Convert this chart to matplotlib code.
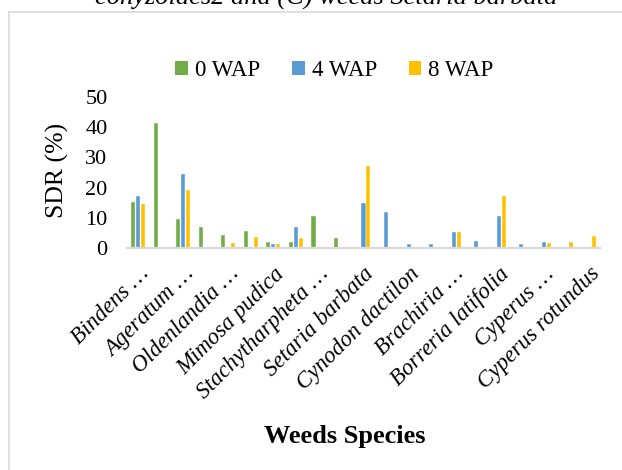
import matplotlib
matplotlib.use("Agg")
import matplotlib.pyplot as plt
import numpy as np
from matplotlib.patches import Patch
from matplotlib.lines import Line2D

# ---- data ----
tick_labels = ["Bindens \u2026", "", "Ageratum \u2026", "", "Oldenlandia \u2026", "",
               "Mimosa pudica", "", "Stachytharpheta \u2026", "", "Setaria barbata", "",
               "Cynodon dactilon", "", "Brachiria \u2026", "", "Borreria latifolia", "",
               "Cyperus \u2026", "", "Cyperus rotundus"]
series_names = ["0 WAP", "4 WAP", "8 WAP"]
wap0 = [15.1, 41.4, 9.5, 7.0, 4.2, 5.6, 2.1, 2.1, 10.5, 3.2, 0, 0, 0, 0, 0, 0, 0, 0, 0, 0, 0]
wap4 = [17.3, 0, 24.6, 0, 0, 0, 1.2, 6.9, 0, 0, 14.8, 11.9, 1.2, 1.3, 5.4, 2.4, 10.5, 1.2, 2.0, 0, 0]
wap8 = [14.7, 0, 19.3, 0, 1.5, 3.5, 1.2, 3.2, 0, 0, 27.0, 0, 0, 0, 5.4, 0, 17.1, 0, 1.6, 2.1, 4.0]
colors = ["#70AD47", "#5B9BD5", "#FFC000"]

plt.rcParams['font.family'] = ['Liberation Serif', 'DejaVu Serif']

W, H = 622, 470
fig = plt.figure(figsize=(W / 100, H / 100), dpi=100)

def fx(px):
    return px / W

def fy(py):
    return 1 - py / H

ax = fig.add_axes([fx(127), fy(248), fx(600) - fx(127), fy(97) - fy(248)])

x = np.arange(len(tick_labels))
bw = 0.18
off = 0.22
for i, (vals, c, name) in enumerate(zip([wap0, wap4, wap8], colors, series_names)):
    ax.bar(x + (i - 1) * off, vals, width=bw, color=c, edgecolor='white', linewidth=0.3,
           label=name, zorder=2)

ax.set_xlim(-0.5, len(tick_labels) - 0.5)
ax.set_ylim(0, 50)
ax.set_yticks([0, 10, 20, 30, 40, 50])
ax.tick_params(axis='y', length=0, pad=14, labelsize=16)
ax.set_xticks(x)
ax.set_xticklabels(tick_labels, rotation=45, ha='right', va='top', rotation_mode='anchor',
                   fontsize=16.5, fontstyle='italic')
ax.tick_params(axis='x', length=0, pad=11)
for s in ['top', 'right', 'left']:
    ax.spines[s].set_visible(False)
ax.spines['bottom'].set_color('#d9d9d9')
ax.spines['bottom'].set_linewidth(1.6)
ax.spines['bottom'].set_zorder(3)

# legend
handles = [Patch(facecolor=c, edgecolor='none') for c in colors]
fig.legend(handles, series_names, loc='center', bbox_to_anchor=(fx(334.5), fy(71)),
           ncol=3, frameon=False, fontsize=16.5, handlelength=0.55, handleheight=0.55,
           handletextpad=0.3, columnspacing=1.4, borderaxespad=0, borderpad=0)

# axis titles
fig.text(fx(57), fy(170), "SDR (%)", rotation=90, ha='center', va='center', fontsize=18.5)
fig.text(fx(344.5), fy(437), "Weeds Species", ha='center', va='center', fontsize=19,
         fontweight='bold')

# chart border (partially outside the image)
fig.add_artist(Line2D([fx(9), fx(W + 5)], [fy(12), fy(12)], color='#d9d9d9', lw=1.2,
                      transform=fig.transFigure))
fig.add_artist(Line2D([fx(9), fx(9)], [fy(12), fy(H + 5)], color='#d9d9d9', lw=1.2,
                      transform=fig.transFigure))

# cut-off caption at top
fig.text(fx(326.5), fy(5), "conyzoides2 and (C) weeds Setaria barbata", ha='center',
         va='baseline', fontsize=19, fontstyle='italic')

fig.savefig("out.png", dpi=100, facecolor='white')
